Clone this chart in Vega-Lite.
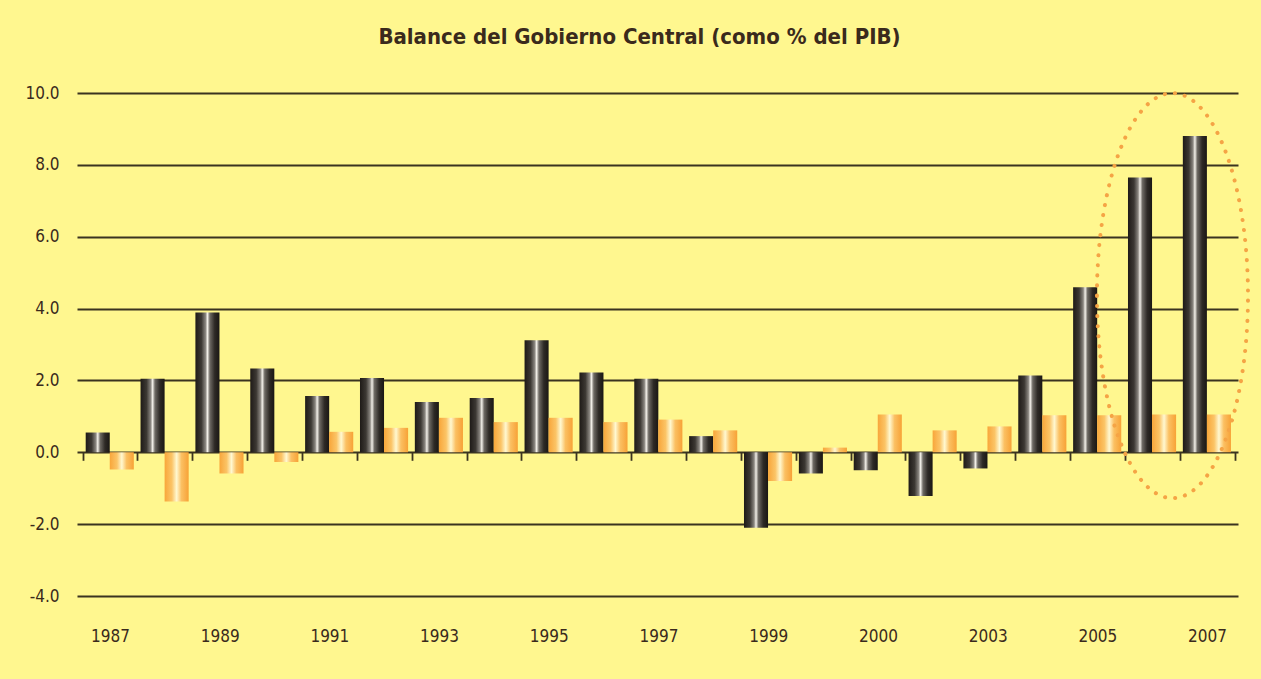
{
  "$schema": "https://vega.github.io/schema/vega-lite/v6.json",
  "width": 1161,
  "height": 503,
  "autosize": {"type": "none"},
  "padding": {"left": 77, "top": 93, "right": 23, "bottom": 83},
  "background": "#fff78f",
  "title": {
    "text": "Balance del Gobierno Central (como % del PIB)",
    "font": "Liberation Sans Narrow, DejaVu Sans Condensed, Roboto, sans-serif",
    "fontSize": 22,
    "fontWeight": "bold",
    "color": "#3a2a1c",
    "anchor": "middle",
    "offset": 35,
    "dx": -18
  },
  "config": {
    "view": {"stroke": null},
    "axis": {
      "labelFont": "Liberation Sans Narrow, DejaVu Sans Condensed, Roboto, sans-serif",
      "labelColor": "#3a2a1c",
      "labelFontSize": 17,
      "title": null
    }
  },
  "datasets": {
    "balance": [
      {"year": "1987", "serie": "Serie 1", "value": 0.55},
      {"year": "1987", "serie": "Serie 2", "value": -0.48},
      {"year": "1988", "serie": "Serie 1", "value": 2.05},
      {"year": "1988", "serie": "Serie 2", "value": -1.37},
      {"year": "1989", "serie": "Serie 1", "value": 3.89},
      {"year": "1989", "serie": "Serie 2", "value": -0.59},
      {"year": "1990", "serie": "Serie 1", "value": 2.33},
      {"year": "1990", "serie": "Serie 2", "value": -0.27},
      {"year": "1991", "serie": "Serie 1", "value": 1.57},
      {"year": "1991", "serie": "Serie 2", "value": 0.57},
      {"year": "1992", "serie": "Serie 1", "value": 2.07},
      {"year": "1992", "serie": "Serie 2", "value": 0.68},
      {"year": "1993", "serie": "Serie 1", "value": 1.4},
      {"year": "1993", "serie": "Serie 2", "value": 0.96},
      {"year": "1994", "serie": "Serie 1", "value": 1.51},
      {"year": "1994", "serie": "Serie 2", "value": 0.84},
      {"year": "1995", "serie": "Serie 1", "value": 3.12},
      {"year": "1995", "serie": "Serie 2", "value": 0.96},
      {"year": "1996", "serie": "Serie 1", "value": 2.22},
      {"year": "1996", "serie": "Serie 2", "value": 0.84},
      {"year": "1997", "serie": "Serie 1", "value": 2.05},
      {"year": "1997", "serie": "Serie 2", "value": 0.91},
      {"year": "1998", "serie": "Serie 1", "value": 0.45},
      {"year": "1998", "serie": "Serie 2", "value": 0.61},
      {"year": "1999", "serie": "Serie 1", "value": -2.1},
      {"year": "1999", "serie": "Serie 2", "value": -0.8},
      {"year": "2000", "serie": "Serie 1", "value": -0.59},
      {"year": "2000", "serie": "Serie 2", "value": 0.13},
      {"year": "2001", "serie": "Serie 1", "value": -0.5},
      {"year": "2001", "serie": "Serie 2", "value": 1.05},
      {"year": "2002", "serie": "Serie 1", "value": -1.22},
      {"year": "2002", "serie": "Serie 2", "value": 0.61},
      {"year": "2003", "serie": "Serie 1", "value": -0.45},
      {"year": "2003", "serie": "Serie 2", "value": 0.72},
      {"year": "2004", "serie": "Serie 1", "value": 2.14},
      {"year": "2004", "serie": "Serie 2", "value": 1.03},
      {"year": "2005", "serie": "Serie 1", "value": 4.59},
      {"year": "2005", "serie": "Serie 2", "value": 1.03},
      {"year": "2006", "serie": "Serie 1", "value": 7.65},
      {"year": "2006", "serie": "Serie 2", "value": 1.05},
      {"year": "2007", "serie": "Serie 1", "value": 8.8},
      {"year": "2007", "serie": "Serie 2", "value": 1.05}
    ],
    "resalte": [
      {"year": "2006", "centro": 4.36}
    ]
  },
  "layer": [
    {
      "data": {"name": "balance"},
      "mark": {"type": "bar"},
      "encoding": {
        "x": {
          "field": "year",
          "type": "ordinal",
          "scale": {"paddingInner": 0, "paddingOuter": 0.082, "align": 0.667},
          "axis": {
            "labelAngle": 0,
            "ticks": false,
            "domain": false,
            "labelPadding": 32,
            "labelExpr": "toNumber(datum.value) % 2 == 1 ? (datum.value == '2001' ? '2000' : datum.value) : ''"
          }
        },
        "xOffset": {
          "field": "serie",
          "type": "nominal",
          "scale": {"paddingInner": 0, "paddingOuter": 0.14, "align": 0.4}
        },
        "y": {
          "field": "value",
          "type": "quantitative",
          "scale": {"domain": [-4, 10], "nice": false, "zero": true},
          "axis": {
            "values": [-4, -2, 0, 2, 4, 6, 8, 10],
            "labelExpr": "replace(format(datum.value, '.1f'), '\u2212', '-')",
            "domain": false,
            "ticks": false,
            "labelPadding": 18,
            "grid": true,
            "gridColor": "#3a3320",
            "gridWidth": 1.8
          }
        },
        "color": {
          "condition": {
            "test": "datum.serie === 'Serie 1'",
            "value": {
              "gradient": "linear",
              "x1": 0, "y1": 0, "x2": 1, "y2": 0,
              "stops": [
                {"offset": 0, "color": "#1e1a17"},
                {"offset": 0.25, "color": "#3c3833"},
                {"offset": 0.42, "color": "#8a8680"},
                {"offset": 0.5, "color": "#f4f1ea"},
                {"offset": 0.6, "color": "#6e6a64"},
                {"offset": 0.8, "color": "#2e2a26"},
                {"offset": 1, "color": "#1a1714"}
              ]
            }
          },
          "value": {
            "gradient": "linear",
            "x1": 0, "y1": 0, "x2": 1, "y2": 0,
            "stops": [
              {"offset": 0, "color": "#f8a63a"},
              {"offset": 0.3, "color": "#fbc466"},
              {"offset": 0.5, "color": "#fff8d0"},
              {"offset": 0.7, "color": "#fbc062"},
              {"offset": 1, "color": "#f7a236"}
            ]
          }
        }
      }
    },
    {
      "data": {"name": "resalte"},
      "mark": {
        "type": "point",
        "shape": "M -0.373 0 A 0.373 1 0 1 1 0.373 0 A 0.373 1 0 1 1 -0.373 0 Z",
        "size": 164025,
        "filled": false,
        "stroke": "#f5a445",
        "strokeWidth": 4,
        "strokeDash": [0.1, 10],
        "strokeCap": "round",
        "opacity": 1
      },
      "encoding": {
        "x": {
          "field": "year",
          "type": "ordinal",
          "bandPosition": 0.86,
          "axis": {
            "orient": "bottom",
            "offset": -143.7,
            "labels": false,
            "domain": false,
            "ticks": true,
            "tickSize": 8,
            "tickWidth": 1.8,
            "tickColor": "#3a3320",
            "bandPosition": 1,
            "tickExtra": true,
            "grid": false
          }
        },
        "y": {"field": "centro", "type": "quantitative"}
      }
    }
  ],
  "resolve": {"axis": {"x": "independent"}}
}
